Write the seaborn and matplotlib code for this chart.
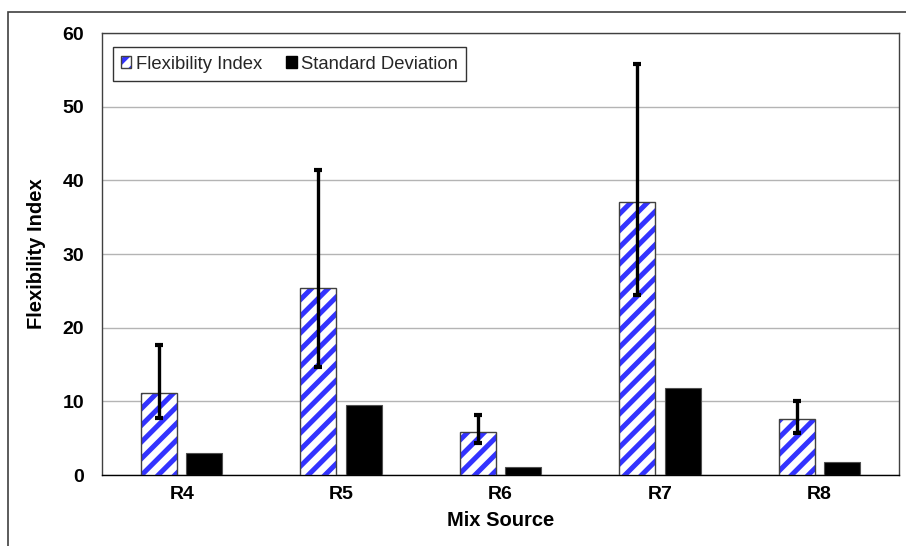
import matplotlib
matplotlib.use("Agg")
import matplotlib.pyplot as plt
import matplotlib.patches as mpatches
from matplotlib.legend_handler import HandlerTuple
import numpy as np
import pandas as pd
import seaborn as sns

# Flexibility index per mix source, with min/max range and standard deviation
sources = ["R4", "R5", "R6", "R7", "R8"]
flex_index = [11.2, 25.4, 5.8, 37.0, 7.6]
std_dev = [3.0, 9.5, 1.1, 11.8, 1.7]
range_low = [7.8, 14.7, 4.4, 24.4, 5.7]
range_high = [17.6, 41.4, 8.1, 55.8, 10.1]
series = ["Flexibility Index", "Standard Deviation"]
y_ticks = [0, 10, 20, 30, 40, 50, 60]

STRIPE = "#3333ff"
TICK_FS = 14
TITLE_FS = 14.5
LEGEND_FS = 13.3

sns.set_theme(style="white")
plt.rcParams["font.family"] = ["Liberation Sans", "DejaVu Sans"]
plt.rcParams["hatch.linewidth"] = 3.6

df = pd.DataFrame({
    "Mix Source": sources * 2,
    "value": flex_index + std_dev,
    "series": [series[0]] * len(sources) + [series[1]] * len(sources),
})

fig = plt.figure(figsize=(9.06, 5.46), dpi=100)
ax = fig.add_axes([0.1126, 0.130, 0.8797, 0.8094])

sns.barplot(data=df, x="Mix Source", y="value", hue="series",
            hue_order=series, palette=["white", "black"],
            width=0.57, gap=0.21, ax=ax, legend=False, zorder=3)

fi_bars, sd_bars = ax.containers[0], ax.containers[1]

# striped bars: hatch takes the edge colour, so draw the outline separately
for p in fi_bars.patches:
    p.set_facecolor("white")
    p.set_edgecolor(STRIPE)
    p.set_linewidth(0)
    p.set_hatch("//")
    bb = p.get_bbox()
    ax.add_patch(mpatches.Rectangle((bb.x0, bb.y0), bb.width, bb.height,
                                    fill=False, edgecolor="#404040",
                                    linewidth=1.0, zorder=3.5))
for p in sd_bars.patches:
    p.set_facecolor("black")
    p.set_edgecolor("#505050")
    p.set_linewidth(0.8)

# min/max range bars on the flexibility index
centers = [p.get_x() + p.get_width() / 2 for p in fi_bars.patches]
fi = np.array(flex_index)
yerr = [fi - np.array(range_low), np.array(range_high) - fi]
ax.errorbar(centers, fi, yerr=yerr, fmt="none", ecolor="black",
            elinewidth=2.4, capsize=2.6, capthick=3, zorder=4)

ax.set_ylim(0, 60)
ax.set_yticks(y_ticks)
ax.set_xlim(-0.5, len(sources) - 0.5)
ax.yaxis.grid(True, color="#b4b4b4", linewidth=1.0, zorder=0)
ax.set_axisbelow(True)
ax.tick_params(axis="both", length=0, labelsize=TICK_FS)
ax.tick_params(axis="y", pad=13)
ax.tick_params(axis="x", pad=8)
for lbl in ax.get_xticklabels() + ax.get_yticklabels():
    lbl.set_fontweight("bold")
    lbl.set_color("black")

for s in ax.spines.values():
    s.set_visible(True)
    s.set_color("#404040")
    s.set_linewidth(1.0)
ax.spines["bottom"].set_color("black")

ax.set_xlabel("Mix Source", fontsize=TITLE_FS, fontweight="bold", color="black", labelpad=6)
ax.set_ylabel("Flexibility Index", fontsize=TITLE_FS, fontweight="bold", color="black", labelpad=12)

# legend
h_stripe = mpatches.Patch(facecolor="white", edgecolor=STRIPE, hatch="//", linewidth=0)
h_outline = mpatches.Patch(fill=False, edgecolor="#404040", linewidth=1.0)
h_sd = mpatches.Patch(facecolor="black", edgecolor="black")
leg = ax.legend([(h_stripe, h_outline), h_sd], series,
                handler_map={tuple: HandlerTuple(ndivide=1)},
                loc="upper left", bbox_to_anchor=(0.0138, 0.968),
                borderaxespad=0, ncol=2, fontsize=LEGEND_FS, frameon=True,
                fancybox=False, handlelength=0.55, handleheight=0.55,
                handletextpad=0.25, columnspacing=1.3, borderpad=0.45)
leg.get_frame().set_edgecolor("black")
leg.get_frame().set_linewidth(1.0)

# outer chart frame
fig.add_artist(mpatches.Rectangle((8 / 906, -0.5), 2.0, 1.5 - 12 / 546,
                                  transform=fig.transFigure, fill=False,
                                  edgecolor="#404040", linewidth=1.2))

fig.savefig("out.png", dpi=100)
